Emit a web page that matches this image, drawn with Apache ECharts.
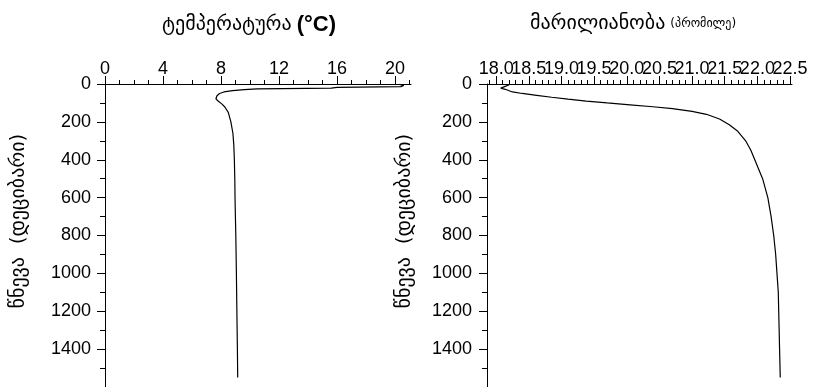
<!DOCTYPE html>
<html><head><meta charset="utf-8">
<script src="https://cdn.jsdelivr.net/npm/echarts@6/dist/echarts.min.js"></script>
<style>html,body{margin:0;padding:0;background:#fff}#c{width:813px;height:387px}</style>
</head><body><div id="c"></div>
<script>
// Temperature profile (pressure in dbar, temperature in °C)
const pressureT   = [2, 8, 14, 18, 22, 26, 30, 35, 42, 50, 62, 78, 90, 105, 120, 150, 200, 260, 320, 400, 500, 620, 800, 1000, 1240, 1400, 1550];
const temperature = [20.3, 20.6, 20.4, 16.0, 15.6, 10.5, 9.6, 8.8, 8.2, 7.9, 7.72, 7.65, 7.8, 8.05, 8.25, 8.5, 8.68, 8.82, 8.88, 8.92, 8.95, 8.97, 9.02, 9.06, 9.1, 9.13, 9.15];
// Salinity profile (pressure in dbar, salinity in ‰)
const pressureS = [4, 9, 15, 22, 28, 35, 42, 50, 60, 70, 80, 90, 100, 110, 120, 130, 145, 160, 185, 215, 250, 300, 350, 400, 500, 600, 700, 800, 900, 1000, 1100, 1250, 1400, 1550];
const salinity  = [18.2, 18.21, 18.12, 18.07, 18.14, 18.12, 18.25, 18.4, 18.62, 18.85, 19.1, 19.38, 19.7, 20.05, 20.4, 20.7, 21.0, 21.22, 21.42, 21.57, 21.7, 21.82, 21.9, 21.96, 22.08, 22.16, 22.21, 22.25, 22.28, 22.3, 22.32, 22.33, 22.34, 22.35];

const tempTicks = [0, 4, 8, 12, 16, 20];
const tempMinorTicks = [0,1,2,3,4,5,6,7,8,9,10,11,12,13,14,15,16,17,18,19,20,21];
const salTicks = [18.0, 18.5, 19.0, 19.5, 20.0, 20.5, 21.0, 21.5, 22.0, 22.5];
const salMinorTicks = [];
for (let i = 179; i <= 225; i++) salMinorTicks.push(i / 10);
const pressureTicks = [0, 200, 400, 600, 800, 1000, 1200, 1400];
const pressureMinorTicks = [0,100,200,300,400,500,600,700,800,900,1000,1100,1200,1300,1400,1500,1600];

const titleT = 'ტემპერატურა';
const titleS = 'მარილიანობა';
const unitS = '(პრომილე)';
const yName = 'წნევა  (დეციბარი)';

const numFont = 'Liberation Sans';
const geoFont = 'DejaVu Sans';

// salinity labels split into two non-overlapping sets (they are drawn together)
const salLabelsA = salTicks.filter((v, i) => i % 2 === 0);
const salLabelsB = salTicks.filter((v, i) => i % 2 === 1);

function xAxisDef(grid, min, max, opts) {
  return {
    type: 'value', gridIndex: grid, position: 'top', min: min, max: max,
    axisLine: { show: !!opts.line, onZero: false, lineStyle: { color: '#000', width: 1 } },
    axisTick: opts.ticks ? { show: true, inside: false, length: opts.tickLen, customValues: opts.ticks, lineStyle: { color: '#000', width: 1 } } : { show: false },
    axisLabel: opts.labels ? { show: true, customValues: opts.labels, margin: 6, color: '#000', fontFamily: numFont, fontSize: 18,
      showMinLabel: true, showMaxLabel: true, hideOverlap: false, formatter: opts.fmt } : { show: false },
    splitLine: { show: false }
  };
}
function yMajor(grid, margin) {
  return {
    type: 'value', gridIndex: grid, position: 'left', inverse: true, min: 0, max: 1600,
    axisLine: { show: true, onZero: false, lineStyle: { color: '#000', width: 1 } },
    axisTick: { show: true, inside: false, length: 8, customValues: pressureTicks, lineStyle: { color: '#000', width: 1 } },
    axisLabel: { show: true, customValues: pressureTicks, margin: margin, color: '#000', fontFamily: numFont, fontSize: 18,
      showMinLabel: true, formatter: v => String(v) },
    splitLine: { show: false }
  };
}
function yMinor(grid) {
  return {
    type: 'value', gridIndex: grid, position: 'left', inverse: true, min: 0, max: 1600,
    axisLine: { show: false },
    axisTick: { show: true, inside: false, length: 5, customValues: pressureMinorTicks, lineStyle: { color: '#000', width: 1 } },
    axisLabel: { show: false }, splitLine: { show: false }
  };
}

const chart = echarts.init(document.getElementById('c'), null, { renderer: 'canvas' });
chart.setOption({
  backgroundColor: '#fff',
  animation: false,
  title: [
    { text: '{g|' + titleT + '} {b|(°C)}', left: 157, top: 9,
      textStyle: { fontWeight: 'normal', rich: {
        g: { fontFamily: geoFont, fontSize: 20, fontWeight: 'normal', color: '#000' },
        b: { fontFamily: numFont, fontSize: 22, fontWeight: 'bold', color: '#000' } } } },
    { text: '{g|' + titleS + '} {s|' + unitS + '}', left: 525, top: 9,
      textStyle: { fontWeight: 'normal', rich: {
        g: { fontFamily: geoFont, fontSize: 20, fontWeight: 'normal', color: '#000' },
        s: { fontFamily: geoFont, fontSize: 12, fontWeight: 'normal', color: '#000' } } } }
  ],
  graphic: [
    { type: 'text', x: 19, y: 221, rotation: Math.PI / 2,
      style: { text: yName, font: '20px "DejaVu Sans"', fill: '#000', align: 'center', verticalAlign: 'middle' } },
    { type: 'text', x: 405, y: 221, rotation: Math.PI / 2,
      style: { text: yName, font: '20px "DejaVu Sans"', fill: '#000', align: 'center', verticalAlign: 'middle' } }
  ],
  grid: [
    { left: 105, top: 84, width: 306, height: 304.8 },
    { left: 487, top: 84, width: 305, height: 304.8 }
  ],
  xAxis: [
    xAxisDef(0, 0, 21.1, { line: true, ticks: tempTicks, tickLen: 8, labels: tempTicks, fmt: v => String(v) }),
    xAxisDef(0, 0, 21.1, { ticks: tempMinorTicks, tickLen: 4 }),
    xAxisDef(1, 17.86, 22.53, { line: true, ticks: salTicks, tickLen: 8, labels: salLabelsA, fmt: v => v.toFixed(1) }),
    xAxisDef(1, 17.86, 22.53, { ticks: salMinorTicks, tickLen: 4 }),
    xAxisDef(1, 17.86, 22.53, { labels: salLabelsB, fmt: v => v.toFixed(1) })
  ],
  yAxis: [
    yMajor(0, 14), yMinor(0),
    yMajor(1, 15), yMinor(1)
  ],
  series: [
    { type: 'line', xAxisIndex: 0, yAxisIndex: 0, showSymbol: false, symbol: 'none',
      lineStyle: { color: '#000', width: 1.2 },
      data: pressureT.map((p, i) => [temperature[i], p]) },
    { type: 'line', xAxisIndex: 2, yAxisIndex: 2, showSymbol: false, symbol: 'none',
      lineStyle: { color: '#000', width: 1.2 },
      data: pressureS.map((p, i) => [salinity[i], p]) }
  ]
});
</script></body></html>
